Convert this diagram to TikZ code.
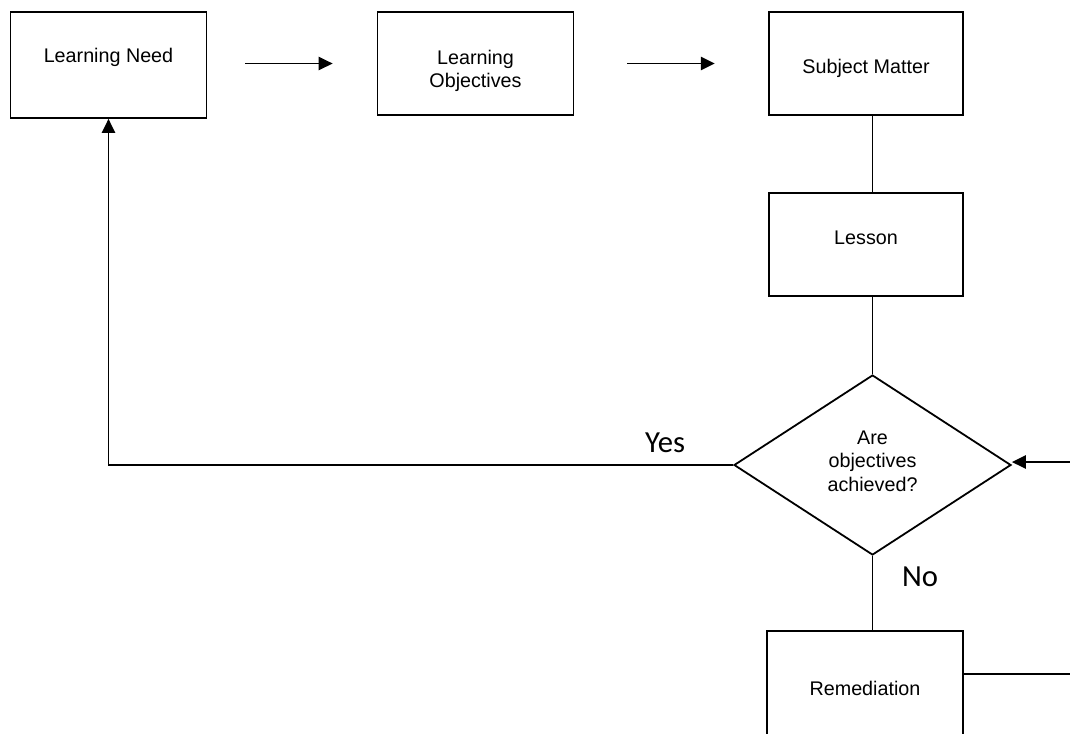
\documentclass[tikz,border=0pt]{standalone}
\usepackage{fontspec}
\setmainfont{Liberation Sans}
\newfontfamily\yesnofont{Carlito}
\usetikzlibrary{shapes.geometric, arrows.meta}

\begin{document}
\begin{tikzpicture}[x=0.75pt,y=0.75pt,yscale=-1,xscale=1,
  box/.style={draw, line width=1.35pt, inner sep=0pt, minimum width=147pt, minimum height=77.5pt},
  boxtext/.style={font=\fontsize{14.8}{17.5}\selectfont, align=center},
  link/.style={line width=1.35pt},
  arr/.style={line width=1.35pt, -{Triangle[length=10.5pt,width=10pt]}},
  answer/.style={font=\yesnofont\fontsize{23}{26}\selectfont}]
\useasboundingbox (0,0) rectangle (1070,733);

% Boxes
\node [box, minimum height=79.5pt, label={[boxtext, yshift=6pt]center:Learning Need}] (need) at (108.5,65) {};
\node [box, label={[boxtext, yshift=-5.6pt]center:Learning\\Objectives}] (obj) at (475.5,63.5) {};
\node [box, minimum width=145.5pt, label={[boxtext, yshift=-3.4pt]center:Subject Matter}] (subj) at (866,63.5) {};
\node [box, minimum width=145.5pt, label={[boxtext, yshift=4.9pt]center:Lesson}] (lesson) at (866,244.5) {};
\node [box, minimum height=78pt, label={[boxtext, yshift=-3.75pt]center:Remediation}] (rem) at (865,683) {};

% Decision
\node [draw, diamond, line width=1.35pt, inner sep=0pt, aspect=1.54, minimum width=207.75pt, minimum height=135pt,
  label={[boxtext, yshift=3pt]center:Are\\objectives\\achieved?}] (dec) at (872.5,465) {};

% Text Node
\node [answer] (yes) at (665,443) {Yes};
% Text Node
\node [answer] (no) at (920,577) {No};

% free ends on the right
\coordinate (back) at (1075,462);
\coordinate (out) at (1075,674);

% Straight Lines
\draw [arr, shorten <=28.5pt, shorten >=33pt] (need.east |- obj) -- (obj.west);
\draw [arr, shorten <=39.5pt, shorten >=40pt] (obj.east) -- (subj.west);
\draw [link] (subj.south -| dec) -- (lesson.north -| dec);
\draw [link] (lesson.south -| dec) -- (dec.north);
\draw [link] (dec.south) -- (rem.north -| dec);
\draw [arr] (dec.west) -| (need.south);
\draw [arr] (back) -- (back -| dec.east);
\draw [link] (rem.east |- out) -- (out);

\end{tikzpicture}
\end{document}
